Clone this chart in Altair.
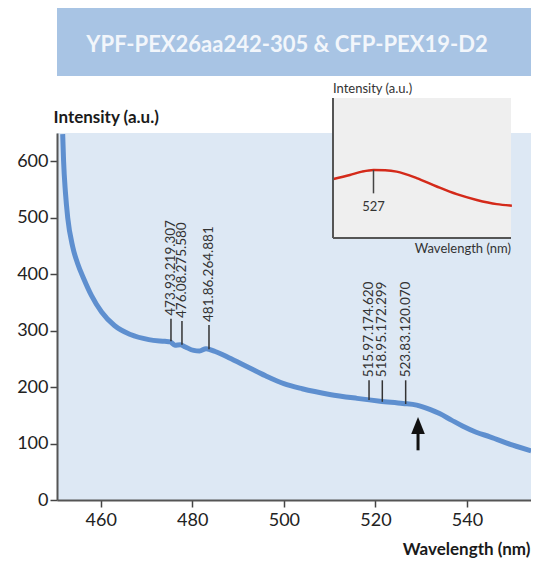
import altair as alt
import pandas as pd

# ---- main spectrum ----
wl = [451.7, 451.9, 452.3, 452.8, 453.9, 455.0, 456.3, 458.0, 460.2, 463.0, 466.5,
      470.5, 474.0, 475.2, 476.2, 477.4, 478.5, 480.3, 481.6, 483.0, 485.0, 488.0,
      492.0, 496.0, 500.0, 504.0, 510.0, 516.0, 521.0, 526.0, 529.0, 532.0, 534.0,
      536.5, 539.0, 542.0, 545.0, 550.0, 554.0]
intensity = [648, 600, 545, 500, 448, 418, 392, 362, 333, 309, 293,
             284, 281, 280, 274, 275, 271, 265, 264, 268, 263, 252,
             236, 220, 206, 197, 187, 180, 175, 171, 168, 160, 153,
             142, 131, 120, 112, 97, 87]

peak_wl = [475.35, 477.75, 483.65, 518.6, 521.5, 526.6]
peak_base = [281, 275, 267, 177, 174, 170]
peak_top = [321, 317, 310, 212, 212, 212]
peak_labels = ["473.93.219.307", "476.08.275.580", "481.86.264.881",
               "515.97.174.620", "518.95.172.299", "523.83.120.070"]

arrow_wl = [529.3]
arrow_tail = [88]
arrow_tip = [147]

x_ticks = [460, 480, 500, 520, 540]
y_ticks = [0, 100, 200, 300, 400, 500, 600]

# ---- inset (arbitrary units) ----
inset_wl = [518.1, 521.8, 524.5, 527.1, 529.7, 532.3, 536.8, 541.3, 545.8, 550.3, 554.8, 558.2]
inset_int = [0.421, 0.450, 0.474, 0.486, 0.484, 0.474, 0.428, 0.368, 0.313, 0.272,
             0.242, 0.231]
inset_peak_wl = [527.1]
inset_peak_top = [0.486]
inset_peak_bottom = [0.319]
inset_peak_label = ["527"]

title_text = "YPF-PEX26aa242-305 & CFP-PEX19-D2"

FONT = "Lato"

df = pd.DataFrame({"wl": wl, "val": intensity})
pk = pd.DataFrame({"wl": peak_wl, "val": peak_base, "top": peak_top, "label": peak_labels})
ar = pd.DataFrame({"wl": arrow_wl, "val": arrow_tail, "top": arrow_tip})
ins = pd.DataFrame({"iwl": inset_wl, "ival": inset_int})
ipk = pd.DataFrame({"iwl": inset_peak_wl, "ival": inset_peak_top,
                    "ibot": inset_peak_bottom, "label": inset_peak_label})
one = pd.DataFrame({"a": [0]})

xs = alt.Scale(domain=[450.46, 553.97], nice=False, zero=False)
ys = alt.Scale(domain=[0, 650], nice=False)

x_axis = alt.Axis(values=x_ticks, title="Wavelength (nm)", titleFont=FONT, titleFontSize=17,
                  titleFontWeight="bold", titleColor="#1a1a1a", titleAlign="right",
                  titleBaseline="middle", titleX=473, titleY=49, labelFont=FONT,
                  labelFontSize=18, labelColor="#222", labelPadding=4, tickSize=7,
                  tickColor="#444", tickWidth=1.5, domainColor="#555", domainWidth=2,
                  grid=False, labelFlush=False)
y_axis = alt.Axis(values=y_ticks, title="Intensity (a.u.)", titleFont=FONT, titleFontSize=17,
                  titleFontWeight="bold", titleColor="#1a1a1a", titleAngle=0,
                  titleAlign="left", titleBaseline="middle", titleX=-4, titleY=-16,
                  labelFont=FONT, labelFontSize=18, labelColor="#222", labelPadding=2,
                  tickSize=7, tickColor="#444", tickWidth=1.5, domainColor="#555",
                  domainWidth=2, grid=False, labelFlush=False)

X = lambda f: alt.X(f, type="quantitative", scale=xs, axis=x_axis)
Y = lambda f: alt.Y(f, type="quantitative", scale=ys, axis=y_axis)

curve = alt.Chart(df).mark_line(color="#5e8fcf", strokeWidth=5, interpolate="monotone").encode(
    x=X("wl"), y=Y("val"), order="wl:Q")

ticks = alt.Chart(pk).mark_rule(color="#333", strokeWidth=1.5).encode(
    x=X("wl"), y=Y("val"), y2="top")

labels = alt.Chart(pk).mark_text(angle=270, align="left", baseline="middle", dx=3,
                                 font=FONT, fontSize=13.5, color="#333").encode(
    x=X("wl"), y=Y("top"), text="label")

shaft = alt.Chart(ar).mark_rule(color="#111", strokeWidth=3, y2Offset=10).encode(
    x=X("wl"), y=Y("val"), y2="top")
head = alt.Chart(ar).mark_point(shape="M0,0L-0.8,2L0.8,2Z", size=289, filled=True,
                                color="#111", opacity=1).encode(x=X("wl"), y=Y("top"))

main = alt.layer(curve, ticks, labels, shaft, head)

# ---- inset with its own scales placed by range ----
ixs = alt.Scale(domain=[518, 558], range=[276, 454], nice=False, zero=False)
iys = alt.Scale(domain=[0, 1], range=[105, -35], nice=False)

inset_bg = alt.Chart(one).mark_rect(color="#efefef").encode(
    x=alt.XDatum(518, scale=ixs, axis=None), x2=alt.X2Datum(558),
    y=alt.YDatum(0, scale=iys, axis=None), y2=alt.Y2Datum(1))
inset_left = alt.Chart(one).mark_rule(color="#555", strokeWidth=2).encode(
    x=alt.XDatum(518, scale=ixs, axis=None),
    y=alt.YDatum(0, scale=iys, axis=None), y2=alt.Y2Datum(1))
inset_bottom = alt.Chart(one).mark_rule(color="#555", strokeWidth=2).encode(
    x=alt.XDatum(518, scale=ixs, axis=None), x2=alt.X2Datum(558),
    y=alt.YDatum(0, scale=iys, axis=None))
inset_line = alt.Chart(ins).mark_line(color="#d42a1a", strokeWidth=2.5,
                                      interpolate="monotone").encode(
    x=alt.X("iwl:Q", scale=ixs, axis=None), y=alt.Y("ival:Q", scale=iys, axis=None))
inset_tick = alt.Chart(ipk).mark_rule(color="#444", strokeWidth=1.5).encode(
    x=alt.X("iwl:Q", scale=ixs, axis=None), y=alt.Y("ival:Q", scale=iys, axis=None),
    y2="ibot")
inset_num = alt.Chart(ipk).mark_text(font=FONT, fontSize=13, color="#333",
                                     baseline="middle", dy=14).encode(
    x=alt.X("iwl:Q", scale=ixs, axis=None), y=alt.Y("ibot:Q", scale=iys, axis=None),
    text="label")
inset_ytitle = alt.Chart(one).mark_text(text="Intensity (a.u.)", font=FONT, fontSize=13,
                                        color="#333", align="left", baseline="middle",
                                        dy=-9).encode(
    x=alt.XDatum(518, scale=ixs, axis=None), y=alt.YDatum(1, scale=iys, axis=None))
inset_xtitle = alt.Chart(one).mark_text(text="Wavelength (nm)", font=FONT, fontSize=13,
                                        color="#333", align="right", baseline="middle",
                                        dy=11).encode(
    x=alt.XDatum(558, scale=ixs, axis=None), y=alt.YDatum(0, scale=iys, axis=None))

inset = alt.layer(inset_bg, inset_line, inset_tick, inset_num, inset_left, inset_bottom,
                  inset_ytitle, inset_xtitle)

# ---- title banner ----
banner = alt.Chart(one).mark_rect(color="#a8c4e4").encode(
    x=alt.value(0), x2=alt.value(474), y=alt.value(-126), y2=alt.value(-57))
banner_text = alt.Chart(one).mark_text(text=title_text, font=FONT, fontSize=22,
                                       fontWeight="bold", color="#f2f6fb",
                                       align="center", baseline="middle").encode(
    x=alt.value(230), y=alt.value(-88))

chart = alt.layer(main, inset, banner, banner_text).resolve_scale(
    x="independent", y="independent"
).properties(
    width=474, height=367,
    autosize=alt.AutoSizeParams(type="none"),
    padding={"left": 49, "top": 125, "right": 0, "bottom": 58},
    background="white",
).configure_view(fill="#dde8f4", stroke=None)

chart.save("out.html", embed_options={"renderer": "svg", "actions": False})
